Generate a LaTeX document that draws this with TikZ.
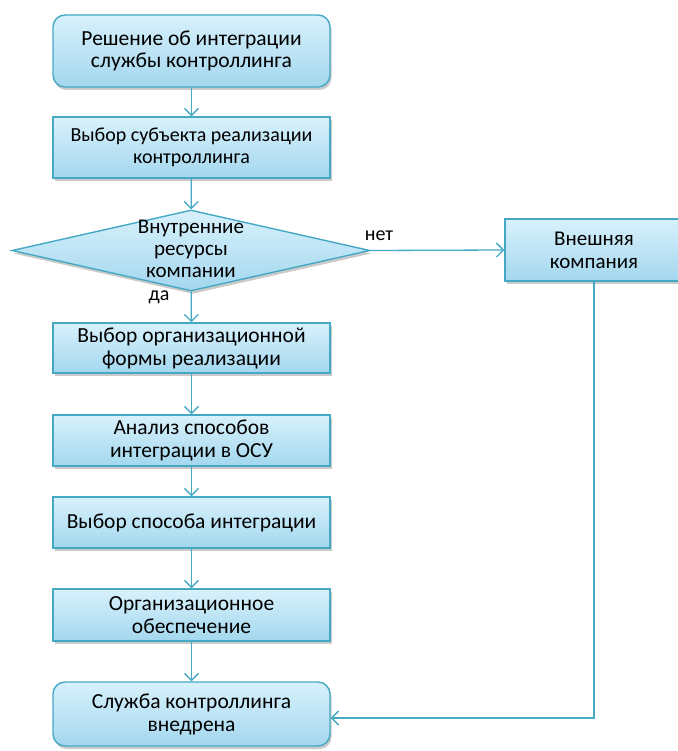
\documentclass[tikz,border=0pt]{standalone}
\usepackage{fontspec}
\setmainfont{Carlito}
\usetikzlibrary{shapes.geometric,arrows.meta,shadows}
\definecolor{edge}{HTML}{45A9C4}
\definecolor{filltop}{HTML}{D8F1FC}
\definecolor{fillbot}{HTML}{A3D7EE}
\tikzset{
  base/.style={draw=edge, line width=1.4pt, top color=filltop, bottom color=fillbot,
    align=center, font=\fontsize{21.5}{23}\selectfont, inner sep=0pt,
    drop shadow={shadow xshift=1.5pt, shadow yshift=-3pt, opacity=0.35, fill=black!60}},
  procbox/.style={base, rectangle, minimum width=277pt},
  termbox/.style={base, rectangle, rounded corners=12pt, minimum width=277pt},
  decision/.style={base, diamond, minimum width=358pt, minimum height=81pt},
  link/.style={draw=edge, line width=1.3pt, -{Straight Barb[length=7pt,width=14pt,line width=1.3pt]}},
  lbl/.style={font=\fontsize{20}{22}\selectfont, inner sep=0pt}
}
\begin{document}
\begin{tikzpicture}[x=1pt,y=-1pt]
\useasboundingbox (0,0) rectangle (677,751);

% main column of steps
\node[termbox, minimum height=72pt, font=\fontsize{21.5}{22}\selectfont] (start) at (191.5,51) {Решение об интеграции\\службы контроллинга};
\node[procbox, minimum height=61pt, font=\fontsize{20}{22}\selectfont] (subj) at (191.5,147.5) {Выбор субъекта реализации\\контроллинга};
\node[decision] (dec) at (191,250.5) {};
\node[align=center, font=\fontsize{21}{22}\selectfont, inner sep=0pt] (dectext) at (191,249) {Внутренние\\ресурсы\\компании};
\node[procbox, minimum width=178pt, minimum height=62pt, font=\fontsize{21}{23}\selectfont] (ext) at (594,250) {Внешняя\\компания};
\node[procbox, minimum height=50pt] (form) at (191.5,348) {Выбор организационной\\формы реализации};
\node[procbox, minimum height=51pt] (anal) at (191.5,440.5) {Анализ способов\\интеграции в ОСУ};
\node[procbox, minimum height=51pt] (choice) at (191.5,522.5) {Выбор способа интеграции};
\node[procbox, minimum height=52pt] (org) at (191.5,615) {Организационное\\обеспечение};
\node[termbox, minimum height=64pt] (done) at (191.5,714) {Служба контроллинга\\внедрена};

% branch labels
\node[lbl] (no) at (379,236) {нет};
\node[lbl] (yes) at (159,297) {да};

% connectors
\coordinate (corner) at (ext.south |- done.east);
\path[link] (start) -- (subj);
\path[link] (subj) -- (dec);
\path[link] (dec) -- (form);
\path[link] (dec.east) -- (ext.west);
\path[link] (form) -- (anal);
\path[link] (anal) -- (choice);
\path[link] (choice) -- (org);
\path[link] (org) -- (done);
\draw[link] (ext.south) -- ([yshift=-4pt]corner) |- ([yshift=-4pt]done.east);
\end{tikzpicture}
\end{document}
